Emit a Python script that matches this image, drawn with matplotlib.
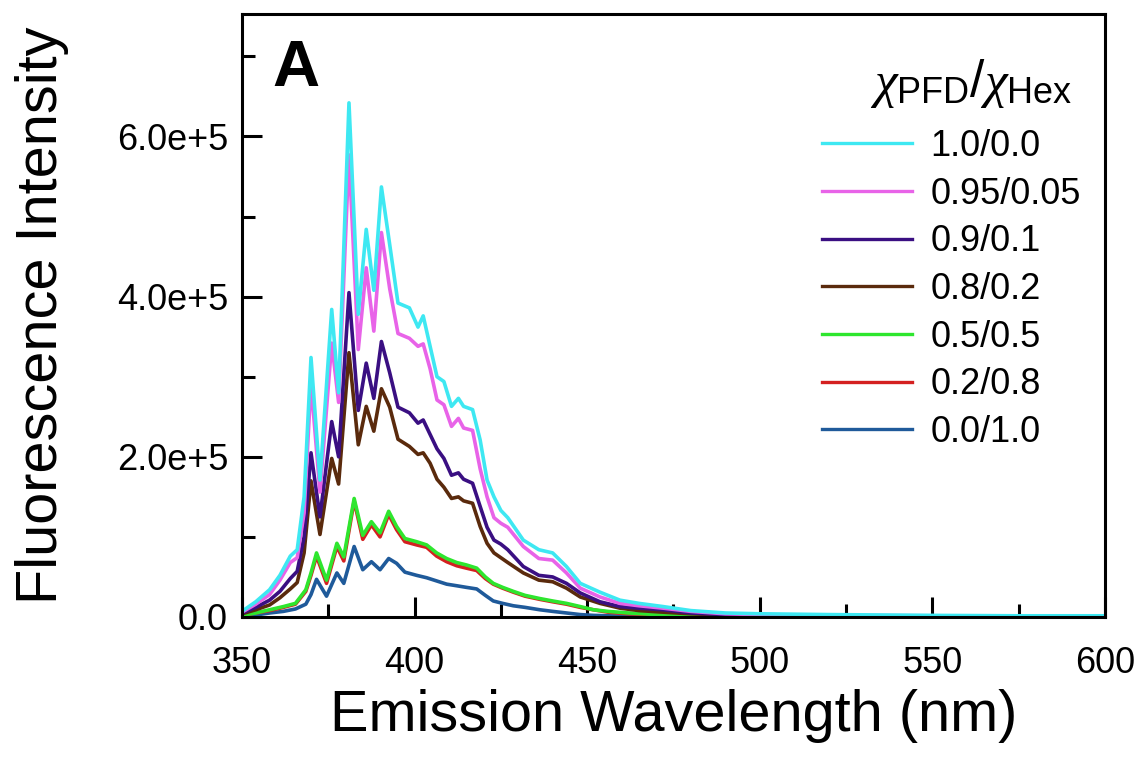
import matplotlib
matplotlib.use("Agg")
import matplotlib.pyplot as plt
from matplotlib.ticker import MultipleLocator, FuncFormatter

plt.rcParams['font.family'] = ['Liberation Sans', 'DejaVu Sans']
plt.rcParams['mathtext.fontset'] = 'custom'
plt.rcParams['mathtext.rm'] = 'Liberation Sans'
plt.rcParams['mathtext.it'] = 'Liberation Serif:italic'

# wavelength grid (nm) for the high-PFD group
wl_a = [350, 354, 358, 361, 364, 366, 368, 370, 372.6, 376, 378, 381, 383.7, 386, 388.2, 390.4,
        392.8, 395.2, 398.5, 401, 402.5, 404.5, 406.5, 408.5, 410.7, 412.7, 414.2, 416.8, 419, 421, 423, 425,
        427, 431.5, 436, 440, 444, 448, 453.7, 459.5, 465, 472, 480, 490, 500, 520, 550, 575, 600]
# intensities in thousands
s_10_00 = [7, 19, 34, 52, 76, 84, 150, 324, 171, 384, 280, 642, 378, 484, 408, 537,
           465, 392, 386, 362, 376, 338, 300, 294, 263, 273, 263, 259, 221, 171, 150, 133,
           124, 96, 84, 80, 63, 42, 31, 21, 17, 13, 8, 5, 4, 3, 2, 1.5, 1.5]
s_095_005 = [6, 16, 28, 46, 68, 74, 130, 292, 156, 342, 268, 577, 334, 436, 357, 480,
             410, 354, 348, 338, 341, 310, 271, 265, 238, 248, 236, 233, 185, 150, 124, 117,
             112, 88, 73, 71, 55, 36, 25, 17, 14, 11, 7, 4, 3, 2, 1.5, 1, 1]
s_09_01 = [5, 12, 21, 32, 48, 57, 100, 205, 125, 244, 200, 405, 258, 317, 273, 344,
           305, 262, 255, 242, 246, 228, 210, 198, 177, 180, 172, 167, 138, 112, 96, 91,
           84, 63, 52, 50, 42, 30, 19, 13, 11, 9, 5, 3, 2, 1.5, 1, 1, 1]
s_08_02 = [4, 9, 15, 24, 35, 43, 80, 170, 103, 198, 166, 330, 215, 263, 232, 285,
           262, 222, 213, 203, 205, 192, 172, 162, 148, 150, 145, 142, 113, 92, 80, 74,
           68, 55, 46, 44, 36, 25, 17, 11, 8, 6, 4, 2.5, 2, 1, 1, 0.5, 0.5]

# wavelength grid (nm) for the low-PFD group
wl_b = [350, 354, 358, 362, 365.5, 368.5, 370, 371.6, 374.5, 377.5, 379.5, 382.5, 385, 387.5, 390, 392.5,
        394.8, 397.2, 400.6, 403.5, 406.4, 409.3, 412.2, 415, 418, 420.5, 422.8, 425.5, 428.6, 432, 436.3, 440,
        444, 448, 451.8, 456, 462, 470, 480, 490, 500, 520, 550, 575, 600]
s_05_05 = [2, 5, 9, 13, 17, 34, 55, 80, 46, 92, 75, 148, 102, 119, 105, 132,
           113, 98, 94, 90, 80, 73, 68, 65, 61, 50, 42, 37, 32, 27, 23, 20,
           17, 13, 9, 7, 5, 3, 2, 1.5, 1, 1, 0.5, 0.5, 0.5]
s_02_08 = [2, 5, 8, 12, 16, 32, 52, 76, 42, 88, 70, 145, 97, 115, 100, 128,
           109, 94, 90, 87, 76, 69, 64, 61, 58, 48, 41, 36, 31, 26, 22, 19,
           16, 12, 9, 6, 4, 3, 2, 1.5, 1, 1, 0.5, 0.5, 0.5]
s_00_10 = [1, 2.5, 5, 7, 10, 16, 28, 47, 26, 55, 42, 88, 59, 69, 59, 73,
           67, 56, 52, 49, 45, 41, 39, 37, 35, 27, 20, 17, 14, 12, 9, 7,
           5, 3, 2, 1.5, 1, 1, 0.5, 0.5, 0.5, 0.5, 0.3, 0.3, 0.3]

labels = ['1.0/0.0', '0.95/0.05', '0.9/0.1', '0.8/0.2', '0.5/0.5', '0.2/0.8', '0.0/1.0']
colors = ['#3ee8f2', '#e863e8', '#3a0f82', '#5a2a0c', '#2ee62e', '#d42020', '#1f5a9a']
series = [(wl_a, s_10_00), (wl_a, s_095_005), (wl_a, s_09_01), (wl_a, s_08_02),
          (wl_b, s_05_05), (wl_b, s_02_08), (wl_b, s_00_10)]
legend_title = r'$\chi_{\mathrm{PFD}}$/$\chi_{\mathrm{Hex}}$'

fig = plt.figure(figsize=(11.44, 7.72), dpi=100)
ax = fig.add_axes([0.2115, 0.2008, 0.7544, 0.7811])

handles = [None] * len(series)
for i in reversed(range(len(series))):
    x, y = series[i]
    (h,) = ax.plot(x, [v * 1000 for v in y], color=colors[i], lw=2.6, label=labels[i],
                   solid_joinstyle='round')
    handles[i] = h

ax.set_xlim(350, 600)
ax.set_ylim(0, 7.53e5)
ax.xaxis.set_major_locator(MultipleLocator(50))
ax.xaxis.set_minor_locator(MultipleLocator(25))
ax.yaxis.set_major_locator(MultipleLocator(2e5))
ax.yaxis.set_minor_locator(MultipleLocator(1e5))

def yfmt(v, pos):
    if abs(v) < 1:
        return '0.0'
    e = 5
    return f'{v / 10**e:.1f}e+{e}'
ax.yaxis.set_major_formatter(FuncFormatter(yfmt))

ax.tick_params(which='both', direction='in', top=False, right=False, width=2.2)
ax.tick_params(which='major', length=14.5, labelsize=26)
ax.tick_params(axis='x', which='major', pad=21)
ax.tick_params(axis='y', which='major', pad=10)
ax.tick_params(which='minor', length=9.5)
for sp in ax.spines.values():
    sp.set_linewidth(2.2)

ax.set_xlabel('Emission Wavelength (nm)', fontsize=41.5, labelpad=6)
ax.set_ylabel('Fluorescence Intensity', fontsize=41.5, labelpad=34)

ax.text(0.035, 0.958, 'A', transform=ax.transAxes, fontsize=47, fontweight='bold',
        va='top', ha='left')

leg = ax.legend(handles=handles, labels=labels, loc='center right',
                bbox_to_anchor=(0.997, 0.543), frameon=False, fontsize=26,
                handlelength=2.5, handletextpad=0.5, labelspacing=0.35, borderpad=0.1)
for lh in leg.get_lines():
    lh.set_linewidth(2.4)

ax.text(0.9618, 0.884, legend_title, transform=ax.transAxes, fontsize=37,
        ha='right', va='center')

fig.savefig('out.png', dpi=100)
